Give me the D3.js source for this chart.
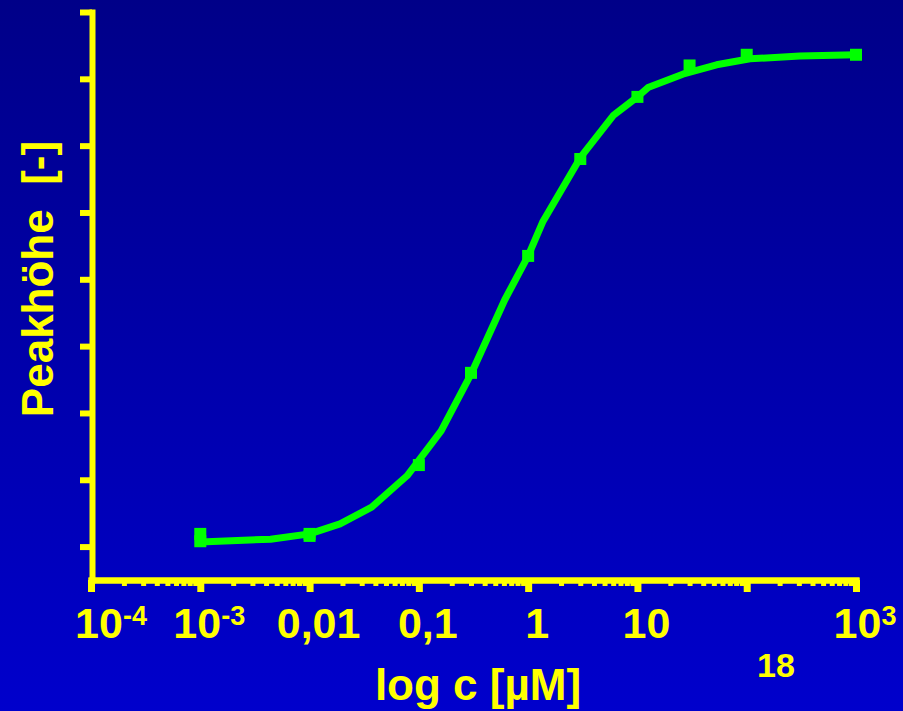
<!DOCTYPE html>
<html>
<head>
<meta charset="utf-8">
<script src="https://cdn.jsdelivr.net/npm/d3@7"></script>
<style>
  body { margin: 0; background: #0000a8; }
  svg { display: block; }
  text { font-family: "Liberation Sans", Arial, sans-serif; font-weight: bold; fill: #ffff00; }
</style>
</head>
<body>
<svg class="chart"></svg>
<script>
// concentration in µM, peak height in arbitrary units
var curveConc = [0.001, 0.0044, 0.01, 0.019, 0.037, 0.078, 0.16, 0.3, 0.61, 1, 1.37, 3, 6, 10, 12.5, 26, 53, 107, 307, 1000];
var curvePeak = [0.57, 0.61, 0.69, 0.84, 1.09, 1.56, 2.23, 3.08, 4.19, 4.85, 5.37, 6.32, 6.95, 7.23, 7.37, 7.57, 7.71, 7.80, 7.84, 7.86];

var pointConc = [0.001, 0.001, 0.01, 0.01, 0.1, 0.3, 1, 3, 10, 30, 100, 1000];
var pointPeak = [0.69, 0.58, 0.69, 0.66, 1.72, 3.10, 4.85, 6.30, 7.23, 7.70, 7.86, 7.86];

var xTickValues = [1e-4, 1e-3, 0.01, 0.1, 1, 10, 100, 1000];
var xTickLabels = ["10^-4", "10^-3", "0,01", "0,1", "1", "10", "", "10^3"];
var yTickValues = [0.5, 1.5, 2.5, 3.5, 4.5, 5.5, 6.5, 7.5, 8.5];

var xTitle = "log c [µM]";
var yTitle = "Peakhöhe  [-]";
var slideNo = "18";

var width = 903, height = 711;

var svg = d3.select(".chart")
    .attr("width", width)
    .attr("height", height);

var grad = svg.append("defs").append("linearGradient")
    .attr("id", "bg")
    .attr("x1", 0).attr("y1", 0).attr("x2", 0).attr("y2", 1);
grad.append("stop").attr("offset", "0%").attr("stop-color", "#000088");
grad.append("stop").attr("offset", "100%").attr("stop-color", "#0000cc");

svg.append("rect")
    .attr("width", width)
    .attr("height", height)
    .attr("fill", "url(#bg)");

var x = d3.scaleLog().domain([1e-4, 1e3]).range([91, 856]);
var y = d3.scaleLinear().domain([0, 8.5]).range([580, 12]);

// minor ticks 2..9 for every decade
var minorTicks = [];
xTickValues.slice(0, -1).forEach(function(d) {
    for (var k = 2; k <= 9; k++) minorTicks.push(d * k);
});

var xAxisGroup = svg.append("g")
    .attr("transform", "translate(0,580)");

xAxisGroup.append("g")
    .attr("class", "minor")
    .call(d3.axisBottom(x).tickValues(minorTicks).tickSize(6).tickSizeOuter(0).tickFormat(""));
xAxisGroup.append("g")
    .attr("class", "major")
    .call(d3.axisBottom(x).tickValues(xTickValues).tickSize(12).tickSizeOuter(0).tickFormat(""));

xAxisGroup.selectAll("path.domain")
    .attr("stroke", "#ffff00")
    .attr("stroke-width", 6)
    .attr("stroke-linecap", "square");
xAxisGroup.selectAll(".minor line").attr("stroke", "#ffff00").attr("stroke-width", 5);
xAxisGroup.selectAll(".major line").attr("stroke", "#ffff00").attr("stroke-width", 7);

var yAxisGroup = svg.append("g")
    .attr("transform", "translate(92,0)")
    .call(d3.axisLeft(y).tickValues(yTickValues).tickSize(12).tickSizeOuter(0).tickFormat(""));
yAxisGroup.select("path.domain")
    .attr("stroke", "#ffff00")
    .attr("stroke-width", 6)
    .attr("stroke-linecap", "square");
yAxisGroup.selectAll("line")
    .attr("stroke", "#ffff00")
    .attr("stroke-width", 6);

// x tick labels with superscripts
var labels = svg.append("g").selectAll("text")
    .data(xTickValues.map(function(v, i) { return {v: v, label: xTickLabels[i]}; })
        .filter(function(d) { return d.label !== ""; }))
    .enter()
    .append("text")
    .attr("x", function(d) { return x(d.v) + (d.v === 1e-4 ? 20 : 9); })
    .attr("y", 638)
    .attr("text-anchor", "middle")
    .style("font-size", "43px");

labels.each(function(d) {
    var parts = d.label.split("^");
    var t = d3.select(this);
    t.append("tspan").text(parts[0]);
    if (parts[1]) {
        t.append("tspan")
            .attr("dy", -13)
            .style("font-size", "27px")
            .text(parts[1]);
    }
});

var line = d3.line()
    .x(function(d) { return x(d[0]); })
    .y(function(d) { return y(d[1]); });

svg.append("path")
    .datum(curveConc.map(function(c, i) { return [c, curvePeak[i]]; }))
    .attr("d", line)
    .attr("fill", "none")
    .attr("stroke", "#00ff00")
    .attr("stroke-width", 7)
    .attr("stroke-linejoin", "round");

var markerSize = 12;
svg.append("g").selectAll("rect")
    .data(pointConc.map(function(c, i) { return [c, pointPeak[i]]; }))
    .enter()
    .append("rect")
    .attr("x", function(d) { return x(d[0]) - markerSize / 2; })
    .attr("y", function(d) { return y(d[1]) - markerSize / 2; })
    .attr("width", markerSize)
    .attr("height", markerSize)
    .attr("fill", "#00ff00");

svg.append("text")
    .attr("x", 478)
    .attr("y", 700)
    .attr("text-anchor", "middle")
    .style("font-size", "44px")
    .text(xTitle);

svg.append("text")
    .attr("transform", "translate(53,279) rotate(-90)")
    .attr("text-anchor", "middle")
    .style("font-size", "44px")
    .style("white-space", "pre")
    .text(yTitle);

svg.append("text")
    .attr("x", 776)
    .attr("y", 677)
    .attr("text-anchor", "middle")
    .style("font-size", "34px")
    .text(slideNo);
</script>
</body>
</html>
